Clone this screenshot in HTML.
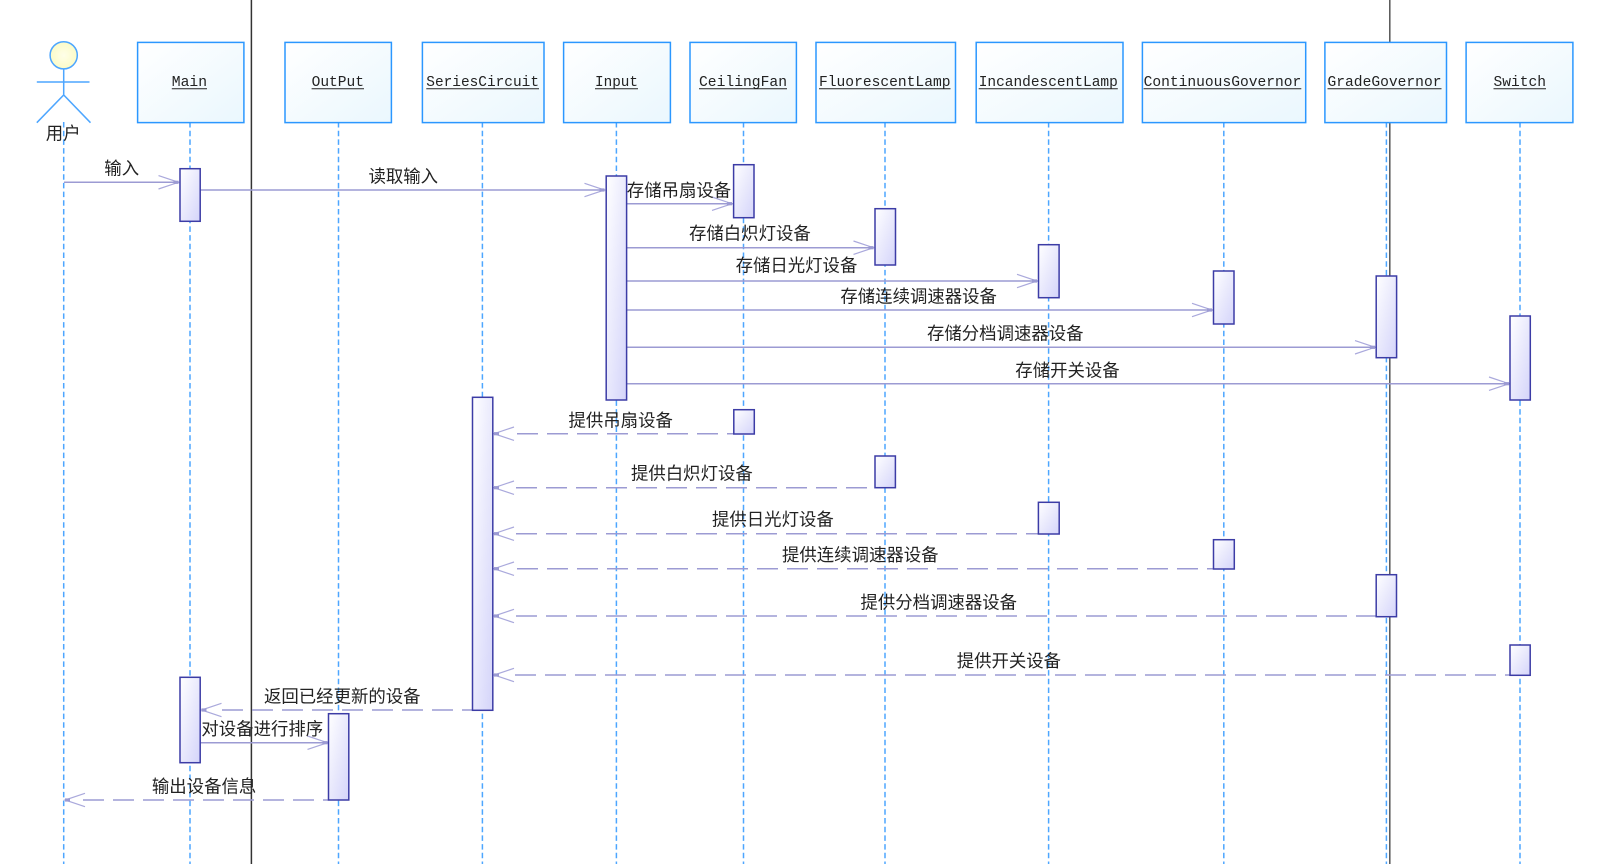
<!DOCTYPE html>
<html><head><meta charset="utf-8"><style>
html,body{margin:0;padding:0;background:#fff;width:1613px;height:864px;overflow:hidden}
svg{display:block;filter:blur(.35px)}
.cj{font-family:"Liberation Sans","Noto Sans CJK SC",sans-serif;font-size:17.4px;fill:#222}
.mo{font-family:"Liberation Mono",monospace;font-size:15px;fill:#222}
.ll{stroke:#4da6ff;stroke-width:1.5;stroke-dasharray:5.5 3.2;fill:none}
.m{stroke:#9c9bd3;stroke-width:1.5;fill:none}
.d{stroke:#9c9bd3;stroke-width:1.5;fill:none;stroke-dasharray:21 9}
.b{fill:url(#gb);stroke:#2b97ff;stroke-width:1.5}
.a{fill:url(#ga);stroke:#3c3ca6;stroke-width:1.5}
.u{stroke:#222;stroke-width:1}
</style></head><body>
<svg width="1613" height="864" viewBox="0 0 1613 864" xmlns="http://www.w3.org/2000/svg">
<defs>
<linearGradient id="gb" x1="0" y1="0" x2="1" y2="1"><stop offset="0" stop-color="#fff"/><stop offset="1" stop-color="#eaf7fe"/></linearGradient>
<linearGradient id="ga" x1="0" y1="0" x2="1" y2="1"><stop offset="0" stop-color="#fff"/><stop offset="1" stop-color="#d4d4fa"/></linearGradient>
<radialGradient id="gh"><stop offset="0" stop-color="#ffffe8"/><stop offset="1" stop-color="#fbfbc8"/></radialGradient>
<g id="ar"><path d="M-21 -6.7L-1 0L-21 6.7" fill="none" stroke="#aaa9dc" stroke-width="1.2"/><rect x="-6" y="-1.6" width="5" height="3.2" fill="#9c9bd3"/></g>
<g id="al"><path d="M21 -6.7L1 0L21 6.7" fill="none" stroke="#aaa9dc" stroke-width="1.2"/><rect x="1" y="-1.6" width="5" height="3.2" fill="#9c9bd3"/></g>
</defs>

<rect width="1613" height="864" fill="#fff"/>
<line x1="251.4" y1="0" x2="251.4" y2="864" stroke="#333" stroke-width="1.5"/>
<line x1="1389.8" y1="0" x2="1389.8" y2="864" stroke="#555" stroke-width="1.5"/>

<line class="ll" x1="63.7" y1="122" x2="63.7" y2="864"/>
<line class="ll" x1="190" y1="122" x2="190" y2="864"/>
<line class="ll" x1="338.5" y1="122" x2="338.5" y2="864"/>
<line class="ll" x1="482.4" y1="122" x2="482.4" y2="864"/>
<line class="ll" x1="616.4" y1="122" x2="616.4" y2="864"/>
<line class="ll" x1="743.5" y1="122" x2="743.5" y2="864"/>
<line class="ll" x1="885" y1="122" x2="885" y2="864"/>
<line class="ll" x1="1048.6" y1="122" x2="1048.6" y2="864"/>
<line class="ll" x1="1223.8" y1="122" x2="1223.8" y2="864"/>
<line class="ll" x1="1386.4" y1="122" x2="1386.4" y2="864"/>
<line class="ll" x1="1520" y1="122" x2="1520" y2="864"/>

<!-- actor -->
<g stroke="#4da6ff" stroke-width="1.5" fill="none">
<circle cx="63.7" cy="55.3" r="13.6" fill="url(#gh)"/>
<path d="M63.7 69V95M36.8 82H89.5M36.8 122.7L63.7 95L90.5 122.7"/>
</g>

<!-- solid messages -->
<line class="m" x1="64" y1="182.3" x2="179" y2="182.3"/><use href="#ar" x="179.5" y="182.3"/>
<line class="m" x1="200" y1="190" x2="605" y2="190"/><use href="#ar" x="605.5" y="190"/>
<line class="m" x1="627" y1="203.7" x2="733" y2="203.7"/><use href="#ar" x="733" y="203.7"/>
<line class="m" x1="627" y1="247.7" x2="874" y2="247.7"/><use href="#ar" x="874.5" y="247.7"/>
<line class="m" x1="627" y1="281" x2="1038" y2="281"/><use href="#ar" x="1038" y="281"/>
<line class="m" x1="627" y1="310" x2="1213" y2="310"/><use href="#ar" x="1213" y="310"/>
<line class="m" x1="627" y1="347.3" x2="1376" y2="347.3"/><use href="#ar" x="1376" y="347.3"/>
<line class="m" x1="627" y1="383.7" x2="1510" y2="383.7"/><use href="#ar" x="1510" y="383.7"/>
<line class="m" x1="200" y1="742.7" x2="328" y2="742.7"/><use href="#ar" x="328.5" y="742.7"/>

<!-- dashed returns -->
<line class="d" x1="517" y1="433.7" x2="734" y2="433.7"/><use href="#al" x="493" y="433.7"/>
<line class="d" x1="516" y1="487.7" x2="875" y2="487.7"/><use href="#al" x="493" y="487.7"/>
<line class="d" x1="516" y1="533.7" x2="1038" y2="533.7"/><use href="#al" x="493" y="533.7"/>
<line class="d" x1="517" y1="568.7" x2="1213" y2="568.7"/><use href="#al" x="493" y="568.7"/>
<line class="d" x1="516" y1="616" x2="1376" y2="616"/><use href="#al" x="493" y="616"/>
<line class="d" x1="515" y1="675" x2="1510" y2="675"/><use href="#al" x="493" y="675"/>
<line class="d" x1="222" y1="710" x2="472" y2="710"/><use href="#al" x="200.5" y="710"/>
<line class="d" x1="83" y1="800" x2="328" y2="800"/><use href="#al" x="64" y="800"/>

<!-- activations -->
<rect class="a" x="180" y="168.7" width="20.2" height="52.6"/>
<rect class="a" x="180" y="677.3" width="20.2" height="85.4"/>
<rect class="a" x="328.5" y="713.7" width="20.3" height="86.3"/>
<rect class="a" x="472.5" y="397.3" width="20.3" height="313"/>
<rect class="a" x="606.2" y="176" width="20.4" height="224"/>
<rect class="a" x="733.6" y="164.7" width="20.4" height="53"/>
<rect class="a" x="733.8" y="409.7" width="20.5" height="24.3"/>
<rect class="a" x="875" y="208.7" width="20.5" height="56.3"/>
<rect class="a" x="875" y="456" width="20.4" height="31.7"/>
<rect class="a" x="1038.5" y="244.7" width="20.6" height="53"/>
<rect class="a" x="1038.4" y="502.3" width="20.8" height="31.7"/>
<rect class="a" x="1213.5" y="271" width="20.5" height="53"/>
<rect class="a" x="1213.5" y="539.7" width="20.8" height="29.3"/>
<rect class="a" x="1376.2" y="276" width="20.4" height="81.7" stroke="#2a2a9c"/>
<rect class="a" x="1376.2" y="574.7" width="20.3" height="42"/>
<rect class="a" x="1510" y="316" width="20.3" height="84"/>
<rect class="a" x="1510" y="645" width="20.2" height="30.3"/>

<!-- lifeline head boxes -->
<rect class="b" x="137.6" y="42.4" width="106.3" height="80.2"/>
<rect class="b" x="285" y="42.4" width="106.4" height="80.2"/>
<rect class="b" x="422.4" y="42.4" width="121.6" height="80.2"/>
<rect class="b" x="563.6" y="42.4" width="106.8" height="80.2"/>
<rect class="b" x="690" y="42.4" width="106.4" height="80.2"/>
<rect class="b" x="816" y="42.4" width="139.5" height="80.2"/>
<rect class="b" x="976.2" y="42.4" width="146.8" height="80.2"/>
<rect class="b" x="1142.4" y="42.4" width="163.3" height="80.2"/>
<rect class="b" x="1324.9" y="42.4" width="121.6" height="80.2"/>
<rect class="b" x="1466.1" y="42.4" width="106.8" height="80.2"/>

<!-- head labels -->
<text class="mo" x="171.8" y="86" textLength="35.2" lengthAdjust="spacingAndGlyphs">Main</text><line class="u" x1="171.8" y1="88.7" x2="207" y2="88.7"/>
<text class="mo" x="311.6" y="86" textLength="52.4" lengthAdjust="spacingAndGlyphs">OutPut</text><line class="u" x1="311.6" y1="88.7" x2="364" y2="88.7"/>
<text class="mo" x="426.3" y="86" textLength="112.7" lengthAdjust="spacingAndGlyphs">SeriesCircuit</text><line class="u" x1="426.3" y1="88.7" x2="539" y2="88.7"/>
<text class="mo" x="595" y="86" textLength="43" lengthAdjust="spacingAndGlyphs">Input</text><line class="u" x1="595" y1="88.7" x2="638" y2="88.7"/>
<text class="mo" x="699" y="86" textLength="88" lengthAdjust="spacingAndGlyphs">CeilingFan</text><line class="u" x1="699" y1="88.7" x2="787" y2="88.7"/>
<text class="mo" x="819" y="86" textLength="131.5" lengthAdjust="spacingAndGlyphs">FluorescentLamp</text><line class="u" x1="819" y1="88.7" x2="950.5" y2="88.7"/>
<text class="mo" x="978.7" y="86" textLength="139.1" lengthAdjust="spacingAndGlyphs">IncandescentLamp</text><line class="u" x1="978.7" y1="88.7" x2="1117.8" y2="88.7"/>
<text class="mo" x="1143.6" y="86" textLength="157.7" lengthAdjust="spacingAndGlyphs">ContinuousGovernor</text><line class="u" x1="1143.6" y1="88.7" x2="1301.3" y2="88.7"/>
<text class="mo" x="1327.5" y="86" textLength="114" lengthAdjust="spacingAndGlyphs">GradeGovernor</text><line class="u" x1="1327.5" y1="88.7" x2="1441.5" y2="88.7"/>
<text class="mo" x="1493.5" y="86" textLength="52.5" lengthAdjust="spacingAndGlyphs">Switch</text><line class="u" x1="1493.5" y1="88.7" x2="1546" y2="88.7"/>

<!-- message labels -->
<text class="cj" x="45.8" y="139.6">用户</text>
<text class="cj" x="104.3" y="174.6">输入</text>
<text class="cj" x="368.5" y="182.3">读取输入</text>
<text class="cj" x="626.8" y="196.6">存储吊扇设备</text>
<text class="cj" x="689" y="239.6">存储白炽灯设备</text>
<text class="cj" x="735.6" y="271.6">存储日光灯设备</text>
<text class="cj" x="840.4" y="302.3">存储连续调速器设备</text>
<text class="cj" x="927" y="339.4">存储分档调速器设备</text>
<text class="cj" x="1015.3" y="376.6">存储开关设备</text>
<text class="cj" x="568.5" y="426.3">提供吊扇设备</text>
<text class="cj" x="631" y="479.5">提供白炽灯设备</text>
<text class="cj" x="712" y="525.6">提供日光灯设备</text>
<text class="cj" x="782" y="561">提供连续调速器设备</text>
<text class="cj" x="860.5" y="608.5">提供分档调速器设备</text>
<text class="cj" x="956.7" y="667.2">提供开关设备</text>
<text class="cj" x="264" y="702.6">返回已经更新的设备</text>
<text class="cj" x="201.4" y="735.2">对设备进行排序</text>
<text class="cj" x="151.9" y="792.4">输出设备信息</text>
</svg>
</body></html>
